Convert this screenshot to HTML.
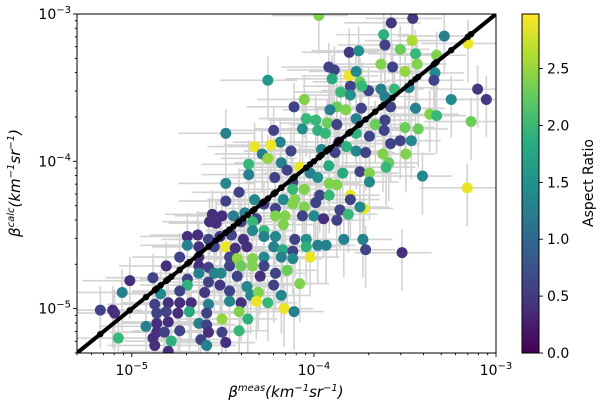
<!DOCTYPE html>
<html><head><meta charset="utf-8">
<style>
html,body{margin:0;padding:0;background:#fff;}
svg{display:block;font-family:"DejaVu Sans","Liberation Sans",sans-serif;}
</style></head>
<body>
<svg id="chart" width="600" height="408" viewBox="0 0 600 408" xmlns="http://www.w3.org/2000/svg">
<defs>
<linearGradient id="vir" x1="0" y1="1" x2="0" y2="0">
<stop offset="0" stop-color="#440154"/><stop offset="0.125" stop-color="#472d7b"/><stop offset="0.25" stop-color="#3b528b"/><stop offset="0.375" stop-color="#2c728e"/><stop offset="0.5" stop-color="#21918c"/><stop offset="0.625" stop-color="#28ae80"/><stop offset="0.75" stop-color="#5ec962"/><stop offset="0.875" stop-color="#addc30"/><stop offset="1" stop-color="#fde725"/>
</linearGradient>
<clipPath id="pc"><rect x="77" y="14" width="419" height="339"/></clipPath>
</defs>
<g id="errs" clip-path="url(#pc)"></g>
<g id="pts" clip-path="url(#pc)"></g>
<g id="line" clip-path="url(#pc)"></g>
<rect x="77" y="14" width="419" height="339" fill="none" stroke="#000" stroke-width="1"/>
<g id="axes"></g>
<text x="286" y="397" text-anchor="middle" font-size="15" font-style="italic">β<tspan font-size="10" dy="-6">meas</tspan><tspan dy="6">(km</tspan><tspan font-size="10" dy="-6">−1</tspan><tspan dy="6">sr</tspan><tspan font-size="10" dy="-6">−1</tspan><tspan dy="6">)</tspan></text>
<text transform="translate(20,183) rotate(-90)" text-anchor="middle" font-size="15" font-style="italic">β<tspan font-size="10" dy="-6">calc</tspan><tspan dy="6">(km</tspan><tspan font-size="10" dy="-6">−1</tspan><tspan dy="6">sr</tspan><tspan font-size="10" dy="-6">−1</tspan><tspan dy="6">)</tspan></text>
<rect x="522" y="14" width="17" height="339" fill="url(#vir)" stroke="#000" stroke-width="1"/>
<g id="cbticks"></g>
<text transform="translate(593,183) rotate(-90)" text-anchor="middle" font-size="14">Aspect Ratio</text>
</svg>
<script>
const logMeas=[-3.973,-3.575,-3.457,-3.617,-3.284,-3.461,-3.154,-3.61,-3.806,-3.754,-3.526,-3.442,-3.326,-3.432,-3.632,-3.568,-3.918,-3.888,-3.808,-3.768,-3.499,-3.335,-4.253,-3.9,-3.341,-3.747,-3.853,-3.8,-3.7,-3.737,-3.632,-3.558,-3.478,-3.8,-3.101,-3.053,-3.246,-3.61,-4.053,-4.109,-3.874,-3.825,-3.912,-3.74,-3.579,-3.442,-3.364,-3.326,-3.137,-4.042,-3.99,-3.926,-3.874,-3.768,-3.663,-3.61,-3.499,-3.427,-3.614,-4.063,-4.221,-3.979,-3.937,-4.484,-3.768,-3.695,-3.465,-3.526,-4.185,-3.863,-3.579,-3.821,-4.326,-4.236,-4.126,-3.958,-3.884,-3.768,-3.716,-3.621,-3.495,-4.284,-4.253,-3.589,-4.179,-4.078,-4.358,-3.918,-3.604,-4.147,-4.021,-4.358,-3.842,-3.747,-3.695,-3.404,-4.215,-3.979,-4.116,-4.484,-3.916,-3.695,-3.874,-4.411,-4.053,-4.116,-3.158,-3.8,-3.968,-3.916,-3.8,-4.484,-4.326,-4.168,-4.105,-3.99,-4.116,-4.274,-4.211,-4.053,-3.857,-3.726,-3.747,-3.811,-4.558,-4.505,-4.442,-4.379,-4.316,-4.211,-4.158,-4.063,-4.0,-3.947,-3.874,-4.537,-4.573,-4.4,-4.337,-4.274,-4.168,-4.337,-4.695,-4.638,-4.579,-4.516,-4.453,-4.387,-4.274,-4.211,-4.105,-4.042,-3.979,-3.933,-3.836,-3.731,-4.695,-4.632,-4.547,-4.484,-4.432,-4.368,-4.221,-4.172,-4.116,-4.042,-4.737,-4.632,-4.463,-4.421,-4.337,-4.274,-4.179,-4.116,-4.021,-3.716,-3.516,-4.811,-4.632,-4.579,-4.463,-4.4,-4.337,-4.274,-4.211,-4.147,-4.632,-4.547,-4.51,-4.421,-4.295,-4.884,-5.011,-4.695,-4.579,-4.516,-4.695,-4.368,-4.221,-4.078,-5.053,-4.842,-4.737,-4.6,-4.463,-4.347,-4.305,-4.179,-4.874,-4.8,-4.737,-4.674,-4.579,-4.463,-4.4,-4.316,-4.253,-4.164,-4.109,-5.173,-5.105,-5.095,-4.863,-4.811,-4.747,-4.684,-4.589,-4.411,-4.363,-4.505,-4.863,-4.8,-4.632,-4.589,-4.922,-4.863,-4.821,-4.737,-4.579,-4.505,-4.411,-5.074,-4.884,-4.783,-4.621,-4.589,-4.874,-4.8,-4.484];
const logCalc=[-3.01,-3.06,-3.03,-3.14,-3.15,-3.18,-3.20,-3.21,-3.26,-3.25,-3.24,-3.27,-3.28,-3.34,-3.34,-3.36,-3.36,-3.38,-3.42,-3.39,-3.39,-3.40,-3.45,-3.44,-3.45,-3.46,-3.53,-3.49,-3.52,-3.49,-3.51,-3.51,-3.50,-3.55,-3.51,-3.58,-3.58,-3.56,-3.58,-3.63,-3.63,-3.65,-3.65,-3.64,-3.63,-3.64,-3.68,-3.69,-3.73,-3.71,-3.72,-3.74,-3.75,-3.71,-3.75,-3.72,-3.77,-3.78,-3.79,-3.78,-3.79,-3.79,-3.81,-3.81,-3.81,-3.83,-3.86,-3.86,-3.87,-3.87,-3.88,-3.90,-3.90,-3.89,-3.93,-3.92,-3.94,-3.93,-3.94,-3.95,-3.95,-3.95,-3.98,-4.01,-4.01,-4.04,-4.02,-4.03,-4.04,-4.06,-4.08,-4.09,-4.08,-4.07,-4.08,-4.10,-4.11,-4.11,-4.14,-4.15,-4.15,-4.14,-4.16,-4.21,-4.19,-4.19,-4.18,-4.23,-4.23,-4.23,-4.26,-4.27,-4.26,-4.26,-4.26,-4.28,-4.29,-4.29,-4.32,-4.31,-4.33,-4.32,-4.31,-4.36,-4.36,-4.37,-4.37,-4.35,-4.39,-4.37,-4.37,-4.37,-4.37,-4.39,-4.40,-4.42,-4.41,-4.41,-4.41,-4.47,-4.43,-4.47,-4.51,-4.50,-4.53,-4.51,-4.50,-4.53,-4.51,-4.51,-4.53,-4.53,-4.57,-4.57,-4.53,-4.53,-4.57,-4.58,-4.58,-4.58,-4.59,-4.58,-4.58,-4.60,-4.61,-4.58,-4.65,-4.65,-4.65,-4.66,-4.66,-4.65,-4.65,-4.66,-4.65,-4.60,-4.62,-4.71,-4.71,-4.72,-4.71,-4.71,-4.71,-4.71,-4.76,-4.74,-4.76,-4.76,-4.76,-4.78,-4.78,-4.79,-4.81,-4.80,-4.82,-4.84,-4.84,-4.85,-4.84,-4.83,-4.89,-4.90,-4.88,-4.89,-4.88,-4.91,-4.89,-4.91,-4.97,-4.96,-4.96,-4.96,-4.97,-4.95,-4.96,-4.95,-4.96,-5.00,-5.02,-5.01,-5.01,-5.03,-5.03,-5.02,-5.03,-5.02,-5.03,-5.02,-5.07,-5.07,-5.10,-5.09,-5.10,-5.11,-5.12,-5.16,-5.16,-5.15,-5.16,-5.16,-5.15,-5.20,-5.20,-5.22,-5.21,-5.25,-5.25,-5.29,-5.23];
const aspect=[2.4,0.5,0.5,1.9,1.3,2.6,2.9,0.6,0.5,1.5,2.3,2.0,2.4,2.4,2.4,0.6,0.6,0.6,2.9,1.4,2.5,1.4,1.6,1.8,0.6,2.3,2.0,0.6,0.6,2.0,1.3,2.0,1.3,1.5,0.5,0.5,1.4,1.3,2.4,0.6,2.3,2.4,1.3,0.6,0.6,1.3,2.4,2.0,2.3,2.0,2.0,2.3,0.6,1.3,2.3,0.6,2.3,2.3,0.6,1.5,0.6,1.9,2.0,1.3,1.9,0.6,1.4,0.6,1.3,0.4,0.6,1.9,2.9,2.9,0.6,1.4,0.6,1.4,0.6,2.4,2.4,1.3,2.5,2.3,1.3,2.9,2.0,1.8,2.0,0.6,1.3,1.3,1.8,0.6,2.4,1.4,0.6,1.5,0.6,1.4,2.4,1.4,2.4,0.6,2.4,2.0,2.9,2.9,0.6,2.0,0.6,0.6,1.4,1.4,2.4,0.6,2.4,0.6,0.6,2.4,0.6,2.9,1.4,2.0,0.4,0.4,1.3,1.3,0.6,2.4,2.4,0.6,1.4,0.4,0.6,0.4,0.4,0.6,2.0,2.0,2.4,1.4,0.4,0.4,0.6,0.5,0.6,0.4,1.3,1.4,0.6,1.5,1.3,1.3,1.3,1.3,1.3,0.4,0.6,2.9,0.4,0.4,1.3,1.8,0.6,1.9,0.6,0.4,0.6,2.5,2.4,1.4,1.3,1.4,2.9,0.6,0.4,0.4,0.4,0.6,0.6,2.3,2.4,0.6,0.6,2.3,1.3,1.3,1.4,0.6,0.4,0.6,0.4,0.6,0.6,0.5,1.9,1.4,0.6,2.4,1.3,1.4,0.6,0.5,0.6,1.4,2.4,1.4,0.6,0.4,0.4,0.4,1.3,1.4,0.4,2.9,2.0,2.9,1.3,0.6,0.4,0.4,0.6,0.6,0.4,1.8,0.6,2.4,1.9,2.5,0.4,0.4,1.3,0.6,1.3,0.4,0.6,0.6,0.4,0.6,2.0,2.0,0.4,1.9,0.6,1.3,0.4,0.4,0.4];
const relErr=0.45;
const xLim=[5e-6,1e-3], yLim=[5e-6,1e-3];
const xTickLabels=["−5","−4","−3"], yTickLabels=["−5","−4","−3"];
const cbTicks=[0.0,0.5,1.0,1.5,2.0,2.5], cbMax=2.98;

const NS="http://www.w3.org/2000/svg";
const PL=77,PR=496,PT=14,PB=353;
function xs(v){const a=Math.log10(xLim[0]),b=Math.log10(xLim[1]);return PL+(Math.log10(v)-a)/(b-a)*(PR-PL);}
function ys(v){const a=Math.log10(yLim[0]),b=Math.log10(yLim[1]);return PB-(Math.log10(v)-a)/(b-a)*(PB-PT);}
function cs(c){return PB-c/cbMax*(PB-PT);}
const vstops=[[68,1,84],[72,40,120],[62,74,137],[49,104,142],[38,130,142],[31,158,137],[53,183,121],[109,205,89],[180,222,44],[253,231,37]];
function viridis(c){let t=Math.max(0,Math.min(1,c/cbMax))*(vstops.length-1);let i=Math.min(Math.floor(t),vstops.length-2),f=t-i;const a=vstops[i],b=vstops[i+1];return `rgb(${Math.round(a[0]+(b[0]-a[0])*f)},${Math.round(a[1]+(b[1]-a[1])*f)},${Math.round(a[2]+(b[2]-a[2])*f)})`;}
function mk(tag,attrs,parent){const e=document.createElementNS(NS,tag);for(const k in attrs)e.setAttribute(k,attrs[k]);parent.appendChild(e);return e;}

const errs=document.getElementById('errs'),pts=document.getElementById('pts'),line=document.getElementById('line'),axes=document.getElementById('axes'),cbt=document.getElementById('cbticks');
for(let i=0;i<logMeas.length;i++){
  const x=Math.pow(10,logMeas[i]),y=Math.pow(10,logCalc[i]);
  const h=mk('line',{x1:xs(x*(1-relErr)),x2:xs(x*(1+relErr)),y1:ys(y),y2:ys(y),stroke:'#d3d3d3','stroke-width':1.6},errs);
  
  
  const v=mk('line',{x1:xs(x),x2:xs(x),y1:ys(y*(1-relErr)),y2:ys(y*(1+relErr)),stroke:'#d3d3d3','stroke-width':1.6},errs);
  
  
}
for(let i=0;i<logMeas.length;i++){
  const x=Math.pow(10,logMeas[i]),y=Math.pow(10,logCalc[i]);
  const p=mk('circle',{cx:xs(x),cy:ys(y),r:5.5,fill:viridis(aspect[i])},pts);
  
  
}
const l=mk('line',{x1:xs(xLim[0]),y1:ys(xLim[0]),x2:xs(xLim[1]),y2:ys(xLim[1]),stroke:'#000','stroke-width':4},line);


for(let i=0;i<logMeas.length;i+=3){
  const v=Math.pow(10,logMeas[i]);
  const d=mk('circle',{cx:xs(v),cy:ys(v),r:3.2,fill:'#000'},line);
  
  
}
for(let e=-6;e<=-3;e++){
  for(let m=1;m<10;m++){
    const v=m*Math.pow(10,e);
    if(v<xLim[0]*0.999||v>xLim[1]*1.001)continue;
    const major=m===1,len=major?4:2.2;
    const tx=mk('line',{x1:xs(v),x2:xs(v),y1:PB,y2:PB+len,stroke:'#000','stroke-width':0.9},axes);
    
    
    const ty=mk('line',{x1:PL-len,x2:PL,y1:ys(v),y2:ys(v),stroke:'#000','stroke-width':0.9},axes);
    
    
  }
}
[-5,-4,-3].forEach((e,i)=>{
  const v=Math.pow(10,e);
  const t=mk('text',{x:xs(v),y:375,'text-anchor':'middle','font-size':14},axes);
  
  
  t.innerHTML='10<tspan font-size="10" dy="-6">'+xTickLabels[i]+'</tspan>';
  const u=mk('text',{x:71,y:ys(v)+5,'text-anchor':'end','font-size':14},axes);
  
  
  u.innerHTML='10<tspan font-size="10" dy="-6">'+yTickLabels[i]+'</tspan>';
});
cbTicks.forEach(c=>{
  const t=mk('line',{x1:539,x2:543,y1:cs(c),y2:cs(c),stroke:'#000','stroke-width':0.9},cbt);
  
  
  const s=mk('text',{x:547,y:cs(c)+5,'font-size':14},cbt);
  
  
  s.textContent=c.toFixed(1);
});
</script>
</body></html>
